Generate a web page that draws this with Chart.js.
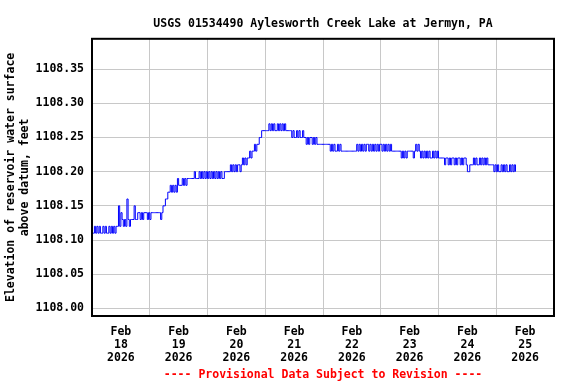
<!DOCTYPE html>
<html>
<head>
<meta charset="utf-8">
<script src="https://cdn.jsdelivr.net/npm/chart.js@4.4.1/dist/chart.umd.min.js"></script>
<style>
  html, body { margin: 0; padding: 0; background: #fff; }
</style>
</head>
<body>
<canvas id="grafico" width="576" height="384"></canvas>
<script>
// leituras de 30 em 30 min a partir de 18 fev 2026 00:00 (elevacao, pes)
const elevacao = [
  1108.11, 1108.11, 1108.12, 1108.11, 1108.12, 1108.11, 1108.12, 1108.11, 1108.11, 1108.12,
  1108.11, 1108.12, 1108.11, 1108.11, 1108.12, 1108.11, 1108.12, 1108.11, 1108.12, 1108.11,
  1108.12, 1108.12, 1108.15, 1108.12, 1108.14, 1108.13, 1108.12, 1108.13, 1108.12, 1108.16,
  1108.13, 1108.12, 1108.13, 1108.13, 1108.13, 1108.15, 1108.13, 1108.13, 1108.14, 1108.14,
  1108.13, 1108.14, 1108.13, 1108.14, 1108.14, 1108.14, 1108.13, 1108.14, 1108.13, 1108.14,
  1108.14, 1108.14, 1108.14, 1108.14, 1108.14, 1108.14, 1108.14, 1108.13, 1108.14, 1108.15,
  1108.15, 1108.16, 1108.16, 1108.17, 1108.17, 1108.18, 1108.17, 1108.18, 1108.17, 1108.18,
  1108.17, 1108.19, 1108.18, 1108.18, 1108.18, 1108.19, 1108.18, 1108.19, 1108.18, 1108.19,
  1108.19, 1108.19, 1108.19, 1108.19, 1108.19, 1108.20, 1108.19, 1108.19, 1108.19, 1108.20,
  1108.19, 1108.20, 1108.19, 1108.20, 1108.19, 1108.20, 1108.19, 1108.20, 1108.19, 1108.20,
  1108.19, 1108.20, 1108.19, 1108.20, 1108.19, 1108.20, 1108.19, 1108.20, 1108.19, 1108.19,
  1108.20, 1108.20, 1108.20, 1108.20, 1108.20, 1108.21, 1108.20, 1108.21, 1108.20, 1108.21,
  1108.20, 1108.21, 1108.21, 1108.20, 1108.21, 1108.22, 1108.21, 1108.22, 1108.21, 1108.22,
  1108.22, 1108.23, 1108.22, 1108.23, 1108.23, 1108.24, 1108.23, 1108.24, 1108.24, 1108.25,
  1108.25, 1108.26, 1108.26, 1108.26, 1108.26, 1108.26, 1108.26, 1108.27, 1108.26, 1108.27,
  1108.26, 1108.27, 1108.26, 1108.26, 1108.27, 1108.26, 1108.27, 1108.26, 1108.27, 1108.26,
  1108.27, 1108.26, 1108.26, 1108.26, 1108.26, 1108.26, 1108.25, 1108.26, 1108.25, 1108.25,
  1108.26, 1108.25, 1108.26, 1108.25, 1108.25, 1108.26, 1108.25, 1108.25, 1108.24, 1108.25,
  1108.24, 1108.25, 1108.25, 1108.24, 1108.25, 1108.24, 1108.25, 1108.24, 1108.24, 1108.24,
  1108.24, 1108.24, 1108.24, 1108.24, 1108.24, 1108.24, 1108.24, 1108.24, 1108.23, 1108.24,
  1108.23, 1108.24, 1108.23, 1108.23, 1108.24, 1108.23, 1108.24, 1108.23, 1108.23, 1108.23,
  1108.23, 1108.23, 1108.23, 1108.23, 1108.23, 1108.23, 1108.23, 1108.23, 1108.23, 1108.23,
  1108.24, 1108.23, 1108.24, 1108.23, 1108.24, 1108.23, 1108.24, 1108.23, 1108.24, 1108.24,
  1108.23, 1108.24, 1108.23, 1108.24, 1108.23, 1108.24, 1108.23, 1108.24, 1108.23, 1108.24,
  1108.24, 1108.23, 1108.24, 1108.23, 1108.24, 1108.23, 1108.24, 1108.23, 1108.24, 1108.23,
  1108.23, 1108.23, 1108.23, 1108.23, 1108.23, 1108.23, 1108.23, 1108.22, 1108.23, 1108.22,
  1108.23, 1108.22, 1108.23, 1108.23, 1108.23, 1108.23, 1108.23, 1108.22, 1108.23, 1108.24,
  1108.23, 1108.24, 1108.23, 1108.22, 1108.23, 1108.22, 1108.23, 1108.22, 1108.23, 1108.22,
  1108.23, 1108.22, 1108.22, 1108.23, 1108.22, 1108.23, 1108.22, 1108.23, 1108.22, 1108.22,
  1108.22, 1108.22, 1108.22, 1108.21, 1108.22, 1108.22, 1108.21, 1108.22, 1108.21, 1108.22,
  1108.22, 1108.21, 1108.22, 1108.21, 1108.22, 1108.22, 1108.21, 1108.22, 1108.21, 1108.22,
  1108.22, 1108.21, 1108.20, 1108.20, 1108.21, 1108.21, 1108.21, 1108.22, 1108.21, 1108.22,
  1108.21, 1108.21, 1108.22, 1108.21, 1108.22, 1108.21, 1108.22, 1108.21, 1108.22, 1108.21,
  1108.21, 1108.21, 1108.21, 1108.21, 1108.20, 1108.21, 1108.20, 1108.21, 1108.20, 1108.20,
  1108.21, 1108.20, 1108.21, 1108.20, 1108.21, 1108.20, 1108.20, 1108.21, 1108.20, 1108.21,
  1108.20, 1108.21, 1108.20
];
const intervaloHoras = 0.5;

const ticksY = [1108.00, 1108.05, 1108.10, 1108.15, 1108.20, 1108.25, 1108.30, 1108.35];
const horasMeiaNoite = [24, 48, 72, 96, 120, 144, 168];
const horasRotulo = [12, 36, 60, 84, 108, 132, 156, 180];
const rotulosX = [
  ['Feb', '18', '2026'], ['Feb', '19', '2026'], ['Feb', '20', '2026'], ['Feb', '21', '2026'],
  ['Feb', '22', '2026'], ['Feb', '23', '2026'], ['Feb', '24', '2026'], ['Feb', '25', '2026']
];

const pontos = elevacao.map((v, i) => ({ x: i * intervaloHoras, y: v }));
const fonte = { family: "'DejaVu Sans Mono', monospace", weight: 'bold', size: 11.5 };
const cinza = '#c8c8c8';

/*moldura preta em volta da area do grafico*/
const moldura = {
  id: 'moldura',
  afterDraw(chart) {
    const { ctx, chartArea: a } = chart;
    ctx.save();
    ctx.strokeStyle = '#000';
    ctx.lineWidth = 2;
    ctx.strokeRect(a.left, a.top, a.right - a.left, a.bottom - a.top);
    ctx.restore();
  }
};

new Chart(document.getElementById('grafico'), {
  type: 'line',
  data: {
    datasets: [{
      data: pontos,
      borderColor: '#0000ff',
      borderWidth: 1,
      pointRadius: 0,
      stepped: true,
      fill: false
    }]
  },
  options: {
    responsive: false,
    animation: false,
    layout: { padding: { left: 0, right: 22, top: 0, bottom: 0 } },
    plugins: {
      legend: { display: false },
      tooltip: { enabled: false },
      title: {
        display: true,
        fullSize: false,
        text: 'USGS 01534490 Aylesworth Creek Lake at Jermyn, PA',
        color: '#000',
        font: fonte,
        padding: { top: 17, bottom: 8 }
      }
    },
    scales: {
      x: {
        type: 'linear',
        min: 0,
        max: 192,
        afterBuildTicks: (scale) => {
          scale.ticks = [...horasRotulo, ...horasMeiaNoite].sort((a, b) => a - b).map(v => ({ value: v }));
        },
        afterFit: (scale) => { scale.height = 68; },
        grid: {
          drawTicks: false,
          color: (ctx) => (ctx.tick && horasMeiaNoite.includes(ctx.tick.value)) ? cinza : 'rgba(0,0,0,0)'
        },
        border: { display: false },
        ticks: {
          autoSkip: false,
          maxRotation: 0,
          padding: 10,
          color: '#000',
          font: { ...fonte, lineHeight: 1.12 },
          callback: (v) => {
            const i = horasRotulo.indexOf(v);
            return i >= 0 ? rotulosX[i] : '';
          }
        },
        title: {
          display: true,
          text: '---- Provisional Data Subject to Revision ----',
          color: '#ff0000',
          font: fonte,
          padding: { top: 0, bottom: 2 }
        }
      },
      y: {
        min: 1107.9888,
        max: 1108.3944,
        afterBuildTicks: (scale) => {
          scale.ticks = ticksY.map(v => ({ value: v }));
        },
        afterFit: (scale) => { scale.width = 92; },
        grid: { drawTicks: false, color: cinza },
        border: { display: false },
        ticks: {
          padding: 8,
          color: '#000',
          font: fonte,
          callback: (v) => Number(v).toFixed(2)
        },
        title: {
          display: true,
          text: ['Elevation of reservoir water surface', 'above datum, feet'],
          color: '#000',
          font: { ...fonte, lineHeight: 1.2 },
          padding: { top: 4, bottom: 0 }
        }
      }
    }
  },
  plugins: [moldura]
});
</script>
</body>
</html>
